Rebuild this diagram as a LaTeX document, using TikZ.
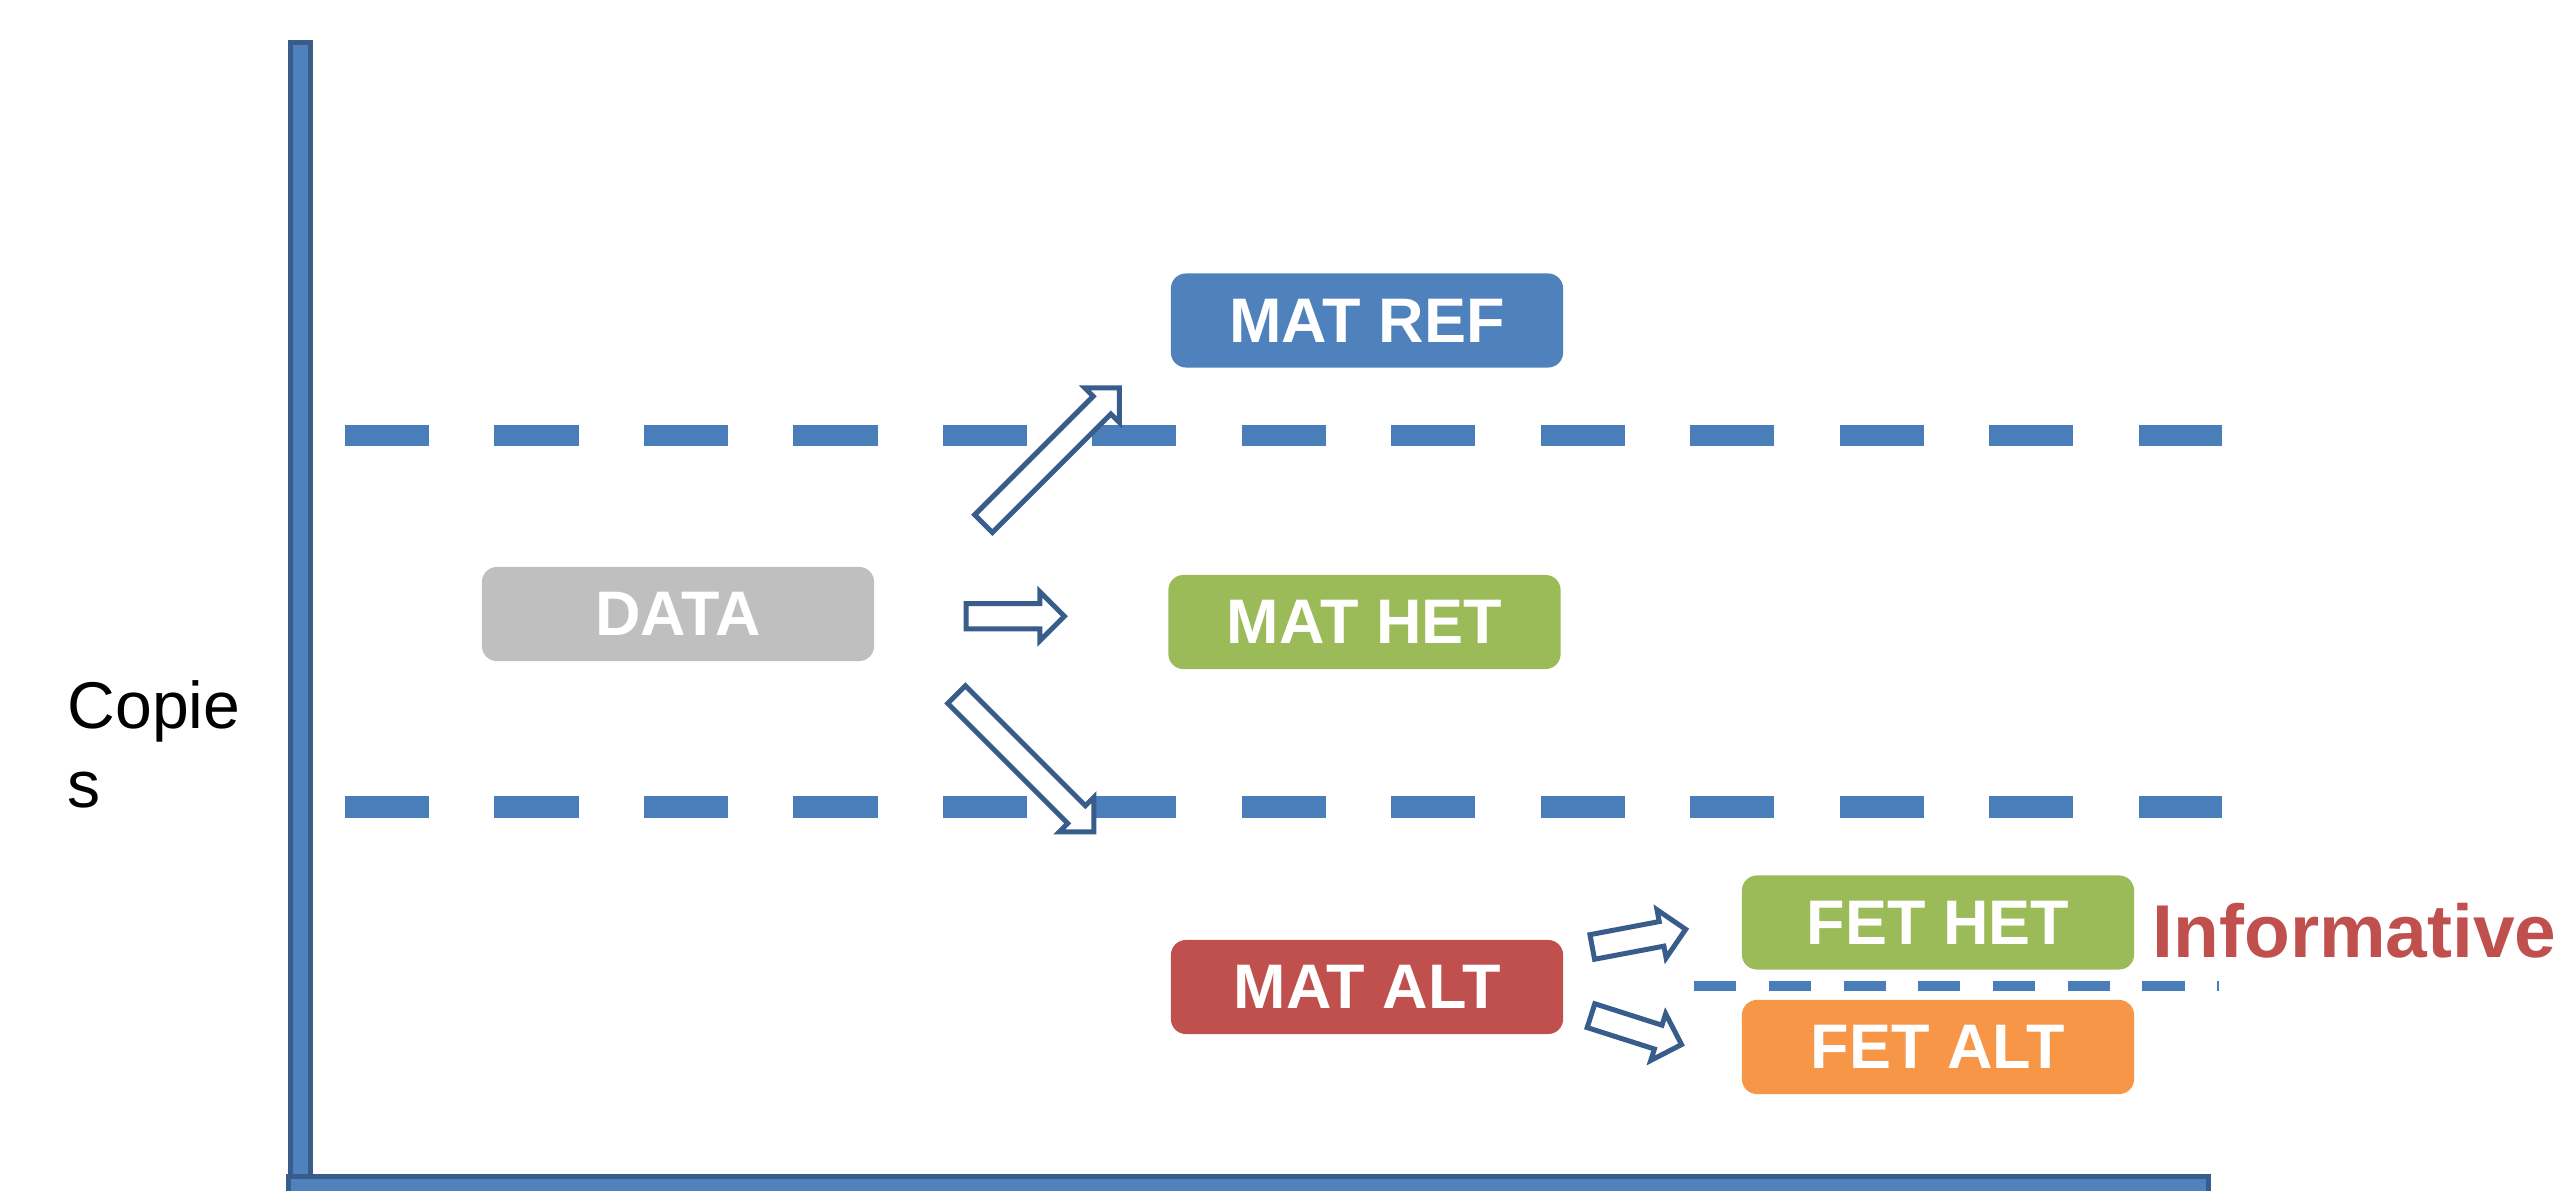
\documentclass[tikz,border=0pt]{standalone}
\usepackage{fontspec}
\setmainfont{Liberation Sans}
\usetikzlibrary{shapes.arrows}

\definecolor{axisfill}{HTML}{4F81BD}
\definecolor{axisedge}{HTML}{385D8A}
\definecolor{dashblue}{HTML}{4A7EBB}
\definecolor{refblue}{HTML}{4F81BD}
\definecolor{hetgreen}{HTML}{9BBB59}
\definecolor{datagrey}{HTML}{BFBFBF}
\definecolor{altred}{HTML}{C0504D}
\definecolor{fetorange}{HTML}{F79646}

\tikzset{
  axisbar/.style={fill=axisfill, draw=axisedge, line width=0.05cm},
  box/.style={rounded corners=0.15cm, minimum width=3.92cm, minimum height=0.94cm,
    inner sep=0pt, text=white, font=\bfseries\fontsize{17.9}{20}\selectfont},
  level/.style={dashblue, line width=0.21cm, dash pattern=on 0.84cm off 0.654cm},
  sublevel/.style={dashblue, line width=0.1cm, dash pattern=on 0.42cm off 0.327cm},
  blockarrow/.style={shape=single arrow, draw=axisedge, fill=white, line width=0.05cm,
    inner sep=0.1cm, single arrow head extend=0.12cm, single arrow tip angle=90,
    line join=miter},
}

\begin{document}
\begin{tikzpicture}[x=0.01cm, y=-0.01cm]
  \useasboundingbox (0,0) rectangle (2554,1191);

  % axes
  \draw[axisbar] (290,42.5) rectangle (310,1190);
  \draw[axisbar] (288.5,1176.5) rectangle (2208.5,1205);

  % threshold levels
  \coordinate (upA) at (345,435.5);  \coordinate (upB) at (2222,435.5);
  \coordinate (loA) at (345,807);    \coordinate (loB) at (2222,807);
  \coordinate (fA)  at (1694,986);   \coordinate (fB)  at (2219,986);
  \draw[level] (upA) -- (upB);
  \draw[level] (loA) -- (loB);
  \draw[sublevel] (fA) -- (fB);

  % boxes
  \node[box, fill=datagrey]  (data)   at (678,614)    {DATA};
  \node[box, fill=refblue]   (matref) at (1367,320.5) {MAT REF};
  \node[box, fill=hetgreen]  (mathet) at (1364.5,622) {MAT HET};
  \node[box, fill=altred]    (matalt) at (1367,987)   {MAT ALT};
  \node[box, fill=hetgreen]  (fethet) at (1938,922.5) {FET HET};
  \node[box, fill=fetorange] (fetalt) at (1938,1047)  {FET ALT};

  % block arrows
  \node[blockarrow, minimum height=1.92cm, rotate=45]    (a1) at (1047,460.2)    {};
  \node[blockarrow, minimum height=0.98cm]               (a2) at (1009,616.25)   {};
  \node[blockarrow, minimum height=1.94cm, rotate=-45]   (a3) at (1020.8,758.8)  {};
  \node[blockarrow, minimum height=0.95cm, rotate=10.7]  (a4) at (1632.8,939.3)  {};
  \node[blockarrow, minimum height=0.95cm, rotate=-17.7] (a5) at (1630.3,1028.2) {};

  % labels
  \node[anchor=base west, inner sep=0pt, text=altred,
        font=\bfseries\fontsize{21.3}{24}\selectfont] (info) at (2152,957) {Informative};
  \node[anchor=base west, inner sep=0pt, font=\fontsize{18.8}{22.5}\selectfont] (copies) at (67,728)
    {\begin{tabular}[t]{@{}l@{}}Copie\\s\end{tabular}};
\end{tikzpicture}
\end{document}
